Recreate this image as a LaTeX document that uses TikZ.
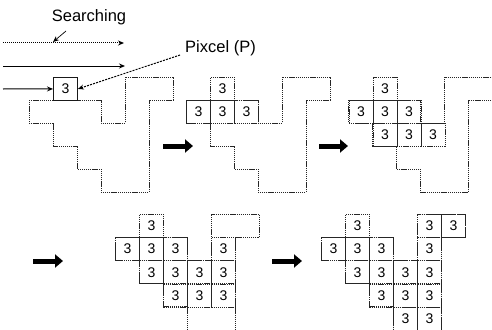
\documentclass[tikz,border=0pt]{standalone}
\usepackage{fontspec}
\setmainfont{Liberation Sans}
\usetikzlibrary{arrows.meta}
\tikzset{
  cellbox/.style={draw=black!85, dash pattern=on 1.3pt off 0.8pt, line width=0.9pt,
    minimum width=24pt, minimum height=23pt, inner sep=0pt, anchor=north west,
    font=\fontsize{14}{14}\selectfont},
  solidcell/.style={cellbox, solid, draw=black!90},
  outline/.style={draw=black!85, dash pattern=on 1.3pt off 0.8pt, line width=0.9pt},
  bigarrow/.style={line width=5pt, -{Triangle[length=8pt,width=13pt]}},
  thinarrow/.style={line width=1pt, -{Stealth[length=6pt,width=5pt]}},
  lbl/.style={font=\fontsize{16.5}{16.5}\selectfont, inner sep=0pt}
}
\newcommand\shapeoutline{%
  \draw[outline] (0,1) -- (3,1) -- (3,2) -- (4,2) -- (4,0) -- (6,0) -- (6,1) -- (5,1)
    -- (5,5) -- (3,5) -- (3,4) -- (2,4) -- (2,3) -- (1,3) -- (1,2) -- (0,2) -- cycle;}
\begin{document}
\begin{tikzpicture}[x=1pt,y=-1pt]
\useasboundingbox (0,0) rectangle (492,329);
\clip (0,0) rectangle (492,329);

% labels
\node[lbl] (searchlbl) at (89,17) {Searching};
\node[lbl, anchor=west] (pixlbl) at (185,48) {Pixcel (P)};

% panel 1
\begin{scope}[shift={(29pt,-77pt)}, x=24pt, y=-23pt]
  \shapeoutline
  \node[solidcell] (pa) at (1,0) {3};
\end{scope}

% search arrows
\coordinate (s1a) at (3,43);
\coordinate (s1b) at (124,43);
\coordinate (s2a) at (3,66);
\coordinate (s2b) at (125,66);
\coordinate (s3a) at (3,89);
\draw[thinarrow, densely dotted] (s1a) -- (s1b);
\draw[thinarrow] (s2a) -- (s2b);
\draw[thinarrow] (s3a) -- (pa.west);
\coordinate (sp) at (66,31);
\coordinate (st) at (53,42);
\draw[thinarrow, line width=0.7pt] (sp) -- (st);
\coordinate (pp) at (180,55);
\draw[thinarrow, dash pattern=on 2pt off 1.2pt] (pp) -- (pa.east);

% panel 2
\begin{scope}[shift={(186pt,-77pt)}, x=24pt, y=-23pt]
  \shapeoutline
  \node[cellbox] (qa) at (1,0) {3};
  \node[cellbox] (qb) at (0,1) {3};
  \node[cellbox] (qc) at (1,1) {3};
  \node[cellbox] (qd) at (2,1) {3};
\end{scope}

% panel 3
\begin{scope}[shift={(348.5pt,-77pt)}, x=24pt, y=-23pt]
  \shapeoutline
  \node[cellbox] (ra) at (1,0) {3};
  \node[cellbox] (rb) at (0,1) {3};
  \node[cellbox] (rc) at (1,1) {3};
  \node[cellbox] (rd) at (2,1) {3};
  \node[cellbox] (re) at (1,2) {3};
  \node[cellbox] (rf) at (2,2) {3};
  \node[cellbox] (rg) at (3,2) {3};
\end{scope}

% panel 4
\begin{scope}[shift={(115pt,-214pt)}, x=24pt, y=-23.2pt]
  \shapeoutline
  \node[cellbox] (ta) at (1,0) {3};
  \node[cellbox] (tb) at (0,1) {3};
  \node[cellbox] (tc) at (1,1) {3};
  \node[cellbox] (td) at (2,1) {3};
  \node[cellbox] (te) at (4,1) {3};
  \node[cellbox] (tf) at (1,2) {3};
  \node[cellbox] (tg) at (2,2) {3};
  \node[cellbox] (th) at (3,2) {3};
  \node[cellbox] (ti) at (4,2) {3};
  \node[cellbox] (tj) at (2,3) {3};
  \node[cellbox] (tk) at (3,3) {3};
  \node[cellbox] (tl) at (4,3) {3};
\end{scope}

% panel 5
\begin{scope}[shift={(321pt,-214pt)}, x=24pt, y=-23.2pt]
  \shapeoutline
  \node[cellbox] (ua) at (1,0) {3};
  \node[cellbox] (ub) at (4,0) {3};
  \node[cellbox] (uc) at (5,0) {3};
  \node[cellbox] (ud) at (0,1) {3};
  \node[cellbox] (ue) at (1,1) {3};
  \node[cellbox] (uf) at (2,1) {3};
  \node[cellbox] (ug) at (4,1) {3};
  \node[cellbox] (uh) at (1,2) {3};
  \node[cellbox] (ui) at (2,2) {3};
  \node[cellbox] (uj) at (3,2) {3};
  \node[cellbox] (uk) at (4,2) {3};
  \node[cellbox] (ul) at (2,3) {3};
  \node[cellbox] (um) at (3,3) {3};
  \node[cellbox] (un) at (4,3) {3};
  \node[cellbox] (uo) at (3,4) {3};
  \node[cellbox] (up) at (4,4) {3};
\end{scope}

% big step arrows
\coordinate (b1a) at (163,146);
\coordinate (b1b) at (193,146);
\coordinate (b2a) at (319,146);
\coordinate (b2b) at (348,146);
\coordinate (b3a) at (33,261);
\coordinate (b3b) at (63,261);
\coordinate (b4a) at (272,261);
\coordinate (b4b) at (302,261);
\draw[bigarrow] (b1a) -- (b1b);
\draw[bigarrow] (b2a) -- (b2b);
\draw[bigarrow] (b3a) -- (b3b);
\draw[bigarrow] (b4a) -- (b4b);
\end{tikzpicture}
\end{document}
